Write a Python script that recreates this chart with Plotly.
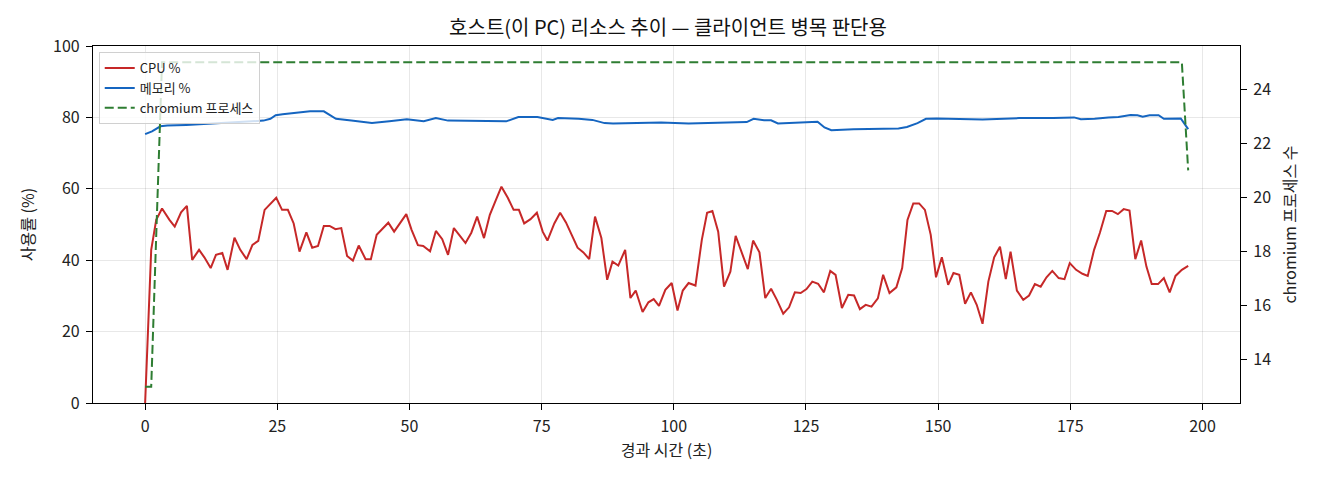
import plotly.graph_objects as go

# ---- data ----
cpu_t = [0, 1.15, 2.1, 3.2, 4.6, 5.6, 6.8, 7.9, 8.9, 10.2, 11.2, 12.4, 13.4, 14.6, 15.6, 16.9, 18.0, 19.2,
         20.3, 21.4, 22.6, 23.7, 24.8, 25.9, 27.0, 28.1, 29.2, 30.5, 31.6, 32.7, 33.8, 34.9, 36.0, 37.1,
         38.2, 39.3, 40.4, 41.7, 42.7, 43.8, 44.8, 46.0, 47.1, 48.3, 49.4, 50.4, 51.6, 52.6, 53.9, 55.0,
         56.2, 57.3, 58.4, 59.4, 60.6, 61.7, 62.8, 64.1, 65.2, 66.3, 67.4, 68.6, 69.7, 70.7, 71.7, 72.9,
         74.1, 75.2, 76.1, 77.4, 78.5, 79.6, 80.7, 81.8, 82.9, 84.0, 85.1, 86.3, 87.4, 88.4, 89.5, 90.8,
         91.8, 92.8, 94.1, 95.2, 96.2, 97.2, 98.4, 99.6, 100.7, 101.7, 102.8, 104.1, 105.3, 106.3, 107.3,
         108.4, 109.5, 110.7, 111.7, 112.8, 114.0, 115.0, 116.2, 117.3, 118.4, 119.5, 120.7, 121.8, 122.9,
         124.0, 125.1, 126.2, 127.3, 128.4, 129.6, 130.6, 131.8, 133.0, 134.1, 135.2, 136.3, 137.4, 138.6,
         139.6, 140.8, 142.1, 143.2, 144.2, 145.3, 146.4, 147.5, 148.6, 149.6, 150.7, 151.9, 152.9, 154.0,
         155.1, 156.2, 157.3, 158.4, 159.5, 160.6, 161.7, 162.8, 163.7, 164.9, 166.1, 167.2, 168.3, 169.4,
         170.5, 171.6, 172.8, 173.9, 174.9, 176.1, 177.3, 178.3, 179.5, 180.6, 181.8, 182.9, 184.0, 185.1,
         186.2, 187.3, 188.4, 189.4, 190.4, 191.6, 192.7, 193.8, 194.9, 196.1, 197.3]
cpu_pct = [0, 42.9, 51.3, 54.5, 51.3, 49.4, 53.4, 55.2, 40.1, 42.9, 40.8, 37.8, 41.5, 42.0, 37.3, 46.3, 42.9,
           40.3, 44.3, 45.4, 54.1, 55.7, 57.5, 54.1, 54.1, 50.3, 42.4, 47.8, 43.5, 44.0, 49.6, 49.6, 48.7,
           49.0, 41.2, 39.9, 44.1, 40.3, 40.3, 47.1, 48.7, 50.5, 48.0, 50.6, 52.9, 48.5, 44.2, 44.0, 42.5,
           48.2, 45.9, 41.5, 49.0, 47.1, 44.8, 47.7, 52.2, 46.2, 52.7, 56.7, 60.6, 57.5, 54.1, 54.1, 50.3,
           51.5, 53.3, 48.0, 45.5, 50.3, 53.3, 50.6, 47.1, 43.5, 42.2, 40.3, 52.2, 46.2, 34.5, 39.6, 38.5,
           42.9, 29.4, 31.5, 25.5, 28.2, 29.1, 27.2, 31.7, 33.6, 25.9, 31.5, 33.6, 32.9, 45.7, 53.3, 53.8,
           48.0, 32.6, 36.8, 46.8, 42.2, 37.5, 45.5, 42.2, 29.4, 32.0, 28.9, 25.0, 26.8, 31.0, 30.8, 31.9,
           34.0, 33.4, 31.0, 37.0, 35.9, 26.6, 30.3, 30.1, 26.3, 27.5, 27.0, 29.3, 35.9, 30.8, 32.4, 37.8,
           51.3, 55.9, 55.9, 54.1, 47.1, 35.2, 40.8, 33.1, 36.4, 35.9, 27.8, 31.0, 27.5, 22.2, 34.0, 40.8,
           43.8, 34.7, 42.4, 31.5, 28.9, 30.1, 33.3, 32.6, 35.2, 37.0, 35.0, 34.7, 39.2, 37.3, 36.2, 35.6,
           42.9, 47.7, 53.8, 53.8, 52.9, 54.3, 53.9, 40.3, 45.5, 38.2, 33.3, 33.3, 35.0, 31.0, 35.6, 37.3,
           38.4]

mem_t = [0, 1.3, 2.9, 4.2, 7.8, 16.9, 20.8, 22.4, 23.7, 24.7, 26.0, 29.3, 31.2, 33.8, 36.1, 39.0, 42.9,
         46.2, 49.5, 52.7, 55.0, 57.3, 62.5, 68.3, 70.6, 74.2, 77.1, 78.1, 82.0, 84.6, 86.9, 88.5, 97.6,
         102.8, 113.8, 115.1, 117.1, 118.4, 119.7, 127.2, 128.5, 129.8, 134.0, 142.5, 144.1, 146.1, 147.7,
         149.7, 158.4, 165.3, 171.8, 175.7, 177.0, 179.6, 182.2, 184.1, 186.4, 187.7, 188.7, 190.0, 191.7,
         192.7, 195.9, 197.3]
mem_pct = [75.3, 76.1, 77.5, 77.7, 77.9, 78.7, 78.9, 79.1, 79.6, 80.6, 80.9, 81.4, 81.7, 81.7, 79.6, 79.1,
           78.4, 78.9, 79.5, 78.9, 79.8, 79.1, 79.1, 78.9, 80.1, 80.1, 79.3, 79.8, 79.6, 79.3, 78.4, 78.3,
           78.6, 78.3, 78.7, 79.6, 79.2, 79.2, 78.3, 78.8, 77.2, 76.4, 76.7, 76.9, 77.3, 78.4, 79.6, 79.7,
           79.4, 79.8, 79.8, 80.0, 79.5, 79.6, 80.0, 80.1, 80.7, 80.6, 80.2, 80.6, 80.6, 79.6, 79.7, 76.7]

proc_t = [0, 1.15, 2.1, 3.2, 196.1, 197.3]
proc_n = [13, 13, 18.6, 25, 25, 21]

left_ticks = [0, 20, 40, 60, 80, 100]
right_ticks = [14, 16, 18, 20, 22, 24]
x_ticks = [0, 25, 50, 75, 100, 125, 150, 175, 200]

FONT = "Noto Sans CJK KR, Noto Sans, DejaVu Sans, sans-serif"
GRID = "rgba(0,0,0,0.09)"

fig = go.Figure()
fig.add_trace(go.Scatter(x=cpu_t, y=cpu_pct, mode="lines", name="CPU %",
                         line=dict(color="#c62828", width=2.0)))
fig.add_trace(go.Scatter(x=mem_t, y=mem_pct, mode="lines", name="메모리 %",
                         line=dict(color="#1565c0", width=2.0)))
fig.add_trace(go.Scatter(x=proc_t, y=proc_n, mode="lines", name="chromium 프로세스",
                         line=dict(color="#2e7d32", width=2.0, dash="9px,4px"), yaxis="y2"))

axis_common = dict(showline=True, linecolor="black", linewidth=1.2, ticks="outside",
                   ticklen=6, tickcolor="black", tickfont=dict(size=16, color="#222"),
                   zeroline=False, ticklabelstandoff=3)

fig.update_layout(
    width=1320, height=480,
    margin=dict(l=85, r=88, t=38, b=85),
    paper_bgcolor="white", plot_bgcolor="white",
    font=dict(family=FONT, size=16, color="#222"),
    title=dict(text="호스트(이 PC) 리소스 추이 — 클라이언트 병목 판단용",
               x=0.5, xanchor="center", y=0.958, yanchor="middle",
               font=dict(size=20, color="#111")),
    xaxis=dict(range=[-9.86, 207.1], tickvals=x_ticks, showgrid=True, gridcolor=GRID,
               mirror=True, title=dict(text="경과 시간 (초)", font=dict(size=16), standoff=8),
               **axis_common),
    yaxis=dict(range=[0, 100], tickvals=left_ticks, showgrid=True, gridcolor=GRID,
               title=dict(text="사용률 (%)", font=dict(size=16), standoff=14), **axis_common),
    yaxis2=dict(range=[12.4, 25.6], tickvals=right_ticks, overlaying="y", side="right",
                showgrid=False, title=dict(text="chromium 프로세스 수", font=dict(size=16), standoff=14),
                **axis_common),
    legend=dict(x=0.005, y=0.983, xanchor="left", yanchor="top",
                bgcolor="rgba(255,255,255,0.8)", bordercolor="#d0d0d0", borderwidth=1,
                font=dict(size=13, color="#222"), itemwidth=30, tracegroupgap=2),
    showlegend=True,
)

fig.write_html("out.html")
